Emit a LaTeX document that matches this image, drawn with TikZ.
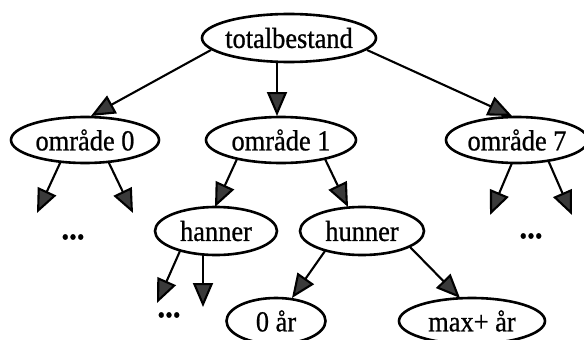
\documentclass[tikz,border=0pt]{standalone}
\usepackage{fontspec}
\setmainfont{Liberation Serif}
\newfontfamily\inkfont{Liberation Serif}[FakeBold=0.8]
\usetikzlibrary{arrows.meta,shapes.geometric,calc}
\definecolor{headgray}{HTML}{3A3A3A}
% label text: slightly condensed, set in a zero-width box so the ellipse keeps its fixed size
\newcommand\lab[1]{\makebox[0pt]{\scalebox{0.91}[1]{#1}}}
\begin{document}
\begin{tikzpicture}[x=1pt,y=-1pt,
  box/.style={ellipse, draw, line width=2.6pt, inner sep=0pt,
              font=\inkfont\fontsize{29}{33}\selectfont},
  lbl/.style={font=\inkfont\bfseries\fontsize{34}{38}\selectfont, inner sep=0pt},
  link/.style={line width=2.1pt, line cap=butt,
               -{Triangle[length=24pt,width=20pt,fill=headgray]}}]

  % page frame
  \useasboundingbox[fill=white] (0,0) rectangle (584,340);

  % tree nodes
  \node[box, minimum width=174pt, minimum height=48pt] (tot) at (289,38) {\lab{totalbestand}};
  \node[box, minimum width=148pt, minimum height=46pt] (o0) at (85,140) {\lab{område 0}};
  \node[box, minimum width=150pt, minimum height=46pt] (o1) at (281,140) {\lab{område 1}};
  \node[box, minimum width=142pt, minimum height=46pt] (o7) at (517,140) {\lab{område 7}};
  \node[box, minimum width=122pt, minimum height=48pt] (han) at (216,231) {\lab{hanner}};
  \node[box, minimum width=124pt, minimum height=48pt] (hun) at (362,231) {\lab{hunner}};
  \node[box, minimum width=99pt, minimum height=46pt] (aar0) at (276,321) {\lab{0 år}};
  \node[box, minimum width=146pt, minimum height=46pt] (aarmax) at (472,321) {\lab{max+ år}};

  % elided subtrees
  \node[lbl] (dots0) at (73,237) {\lab{...}};
  \node[lbl] (dots7) at (531,236) {\lab{...}};
  \node[lbl] (dotsh) at (169,315) {\lab{...}};

  % loose arrow ends
  \coordinate (o0l) at (37,213);
  \coordinate (o0r) at (133,213);
  \coordinate (o7l) at (490,215);
  \coordinate (o7r) at (572,215);
  \coordinate (hanl) at (157,303);
  \coordinate (hanr) at (203,307);

  % connectors
  \draw[link] ($(tot)+(-78,12)$) -- ($(o0)+(6,-24)$);
  \draw[link] ($(tot)+(-12,24)$) -- ($(o1)+(-4,-24)$);
  \draw[link] ($(tot)+(78,12)$)  -- ($(o7)+(-5,-24)$);

  \draw[link] ($(o0)+(-24,21)$) -- (o0l);
  \draw[link] ($(o0)+(23,21)$)  -- (o0r);

  \draw[link] ($(o1)+(-44,19)$) -- ($(han)+(-1,-24)$);
  \draw[link] ($(o1)+(44,19)$)  -- ($(hun)+(-14,-24)$);

  \draw[link] ($(o7)+(-5,23)$) -- (o7l);
  \draw[link] ($(o7)+(31,20)$) -- (o7r);

  \draw[link] ($(han)+(-36,20)$) -- (hanl);
  \draw[link] ($(han)+(-13,24)$) -- (hanr);

  \draw[link] ($(hun)+(-37,20)$) -- ($(aar0)+(16,-23)$);
  \draw[link] ($(hun)+(48,16)$)  -- ($(aarmax)+(-12,-23)$);
\end{tikzpicture}
\end{document}
